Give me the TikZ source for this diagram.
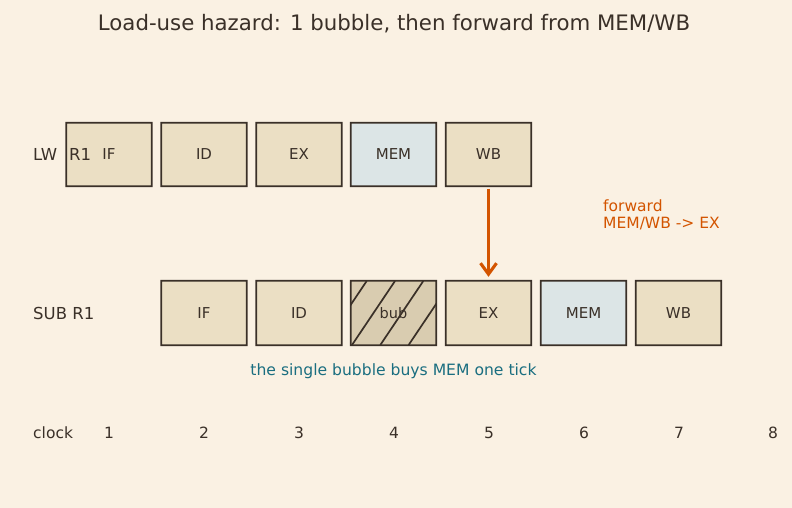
\documentclass[tikz,border=0pt]{standalone}
\usepackage{fontspec}
\setmainfont{DejaVu Sans}
\usetikzlibrary{arrows.meta}
\definecolor{bg}{HTML}{FAF1E3}
\definecolor{stagefill}{HTML}{EBDFC4}
\definecolor{memfill}{HTML}{DCE5E6}
\definecolor{bubfill}{HTML}{D9CCB0}
\definecolor{ink}{HTML}{3A3028}
\definecolor{fwd}{HTML}{D35400}
\definecolor{teal}{HTML}{1A6E80}
\tikzset{
  stage/.style={fill=stagefill, minimum width=85pt, minimum height=63pt, inner sep=0pt, font=\fontsize{15}{17}\selectfont, text=ink},
  memstage/.style={stage, fill=memfill},
  rowlabel/.style={anchor=west, inner sep=0pt, font=\fontsize{16.5}{19}\selectfont, text=ink},
  clk/.style={inner sep=0pt, font=\fontsize{15.5}{18}\selectfont, text=ink},
}
\begin{document}
\begin{tikzpicture}[x=1pt,y=-1pt]
\fill[bg] (0,0) rectangle (792,508);
\useasboundingbox (0,0) rectangle (792,508);
\node[text=ink, font=\fontsize{21.3}{24}\selectfont] (title) at (394,23.5) {Load-use hazard: 1 bubble, then forward from MEM/WB};
% row 1
\node[stage] (lwif) at (109,154.5) {};
\node[stage] (lwid) at (204,154.5) {ID};
\node[stage] (lwex) at (299,154.5) {EX};
\node[memstage] (lwmem) at (393.5,154.5) {MEM};
\node[stage] (lwwb) at (488.5,154.5) {WB};
\node[rowlabel] (lwlab) at (33,154.5) {LW\hspace{12pt}R1};
\node[text=ink, inner sep=0pt, font=\fontsize{15}{17}\selectfont] (lwiftext) at (109,154.5) {IF};
% row 2
\node[stage, minimum height=64pt] (subif) at (204,313) {IF};
\node[stage, minimum height=64pt] (subid) at (299,313) {ID};
\node[stage, fill=bubfill, minimum height=64pt] (subbub) at (393.5,313) {};
\begin{scope}
\clip (351,281) rectangle (436,345);
\foreach \k in {-1,0,...,4} {
  \draw[ink, line width=1.7pt] (366.7+28.3*\k-43,345) -- (366.7+28.3*\k,281);
}
\end{scope}
\node[text=ink, font=\fontsize{14.5}{16}\selectfont] (bubtext) at (393.5,313) {bub};
\node[stage, minimum height=64pt] (subex) at (488.5,313) {EX};
\node[memstage, minimum height=64pt] (submem) at (583.5,313) {MEM};
\node[stage, minimum height=64pt] (subwb) at (678.5,313) {WB};
\node[rowlabel] (sublab) at (33,313) {SUB R1};
% borders (as filled frames)
\foreach \n in {lwif,lwid,lwex,lwmem,lwwb,subif,subid,subbub,subex,submem,subwb} {
  \fill[ink, even odd rule] ([xshift=-0.9pt,yshift=0.9pt]\n.north west) rectangle ([xshift=0.9pt,yshift=-0.9pt]\n.south east)
    ([xshift=0.9pt,yshift=-0.9pt]\n.north west) rectangle ([xshift=-0.9pt,yshift=0.9pt]\n.south east);
}
% forwarding
\draw[fwd, line width=3.3pt, -{Straight Barb[length=11pt,width=16pt,line width=3.1pt]}] ([yshift=-2.5pt]lwwb.south) -- ([yshift=4pt]subex.north);
\node[anchor=west, align=left, text=fwd, inner sep=0pt, font=\fontsize{15.5}{17}\selectfont] (fwdlab) at (603,214.5) {forward\\MEM/WB -> EX};
\node[text=teal, font=\fontsize{15.6}{18}\selectfont] (note) at (393.5,371) {the single bubble buys MEM one tick};
% clock
\node[clk, anchor=west] (clock) at (33,433) {clock};
\foreach \i/\x in {1/109,2/204,3/299,4/394,5/489,6/584,7/679,8/773} {
  \node[clk] (c\i) at (\x,433) {\i};
}
\end{tikzpicture}
\end{document}
